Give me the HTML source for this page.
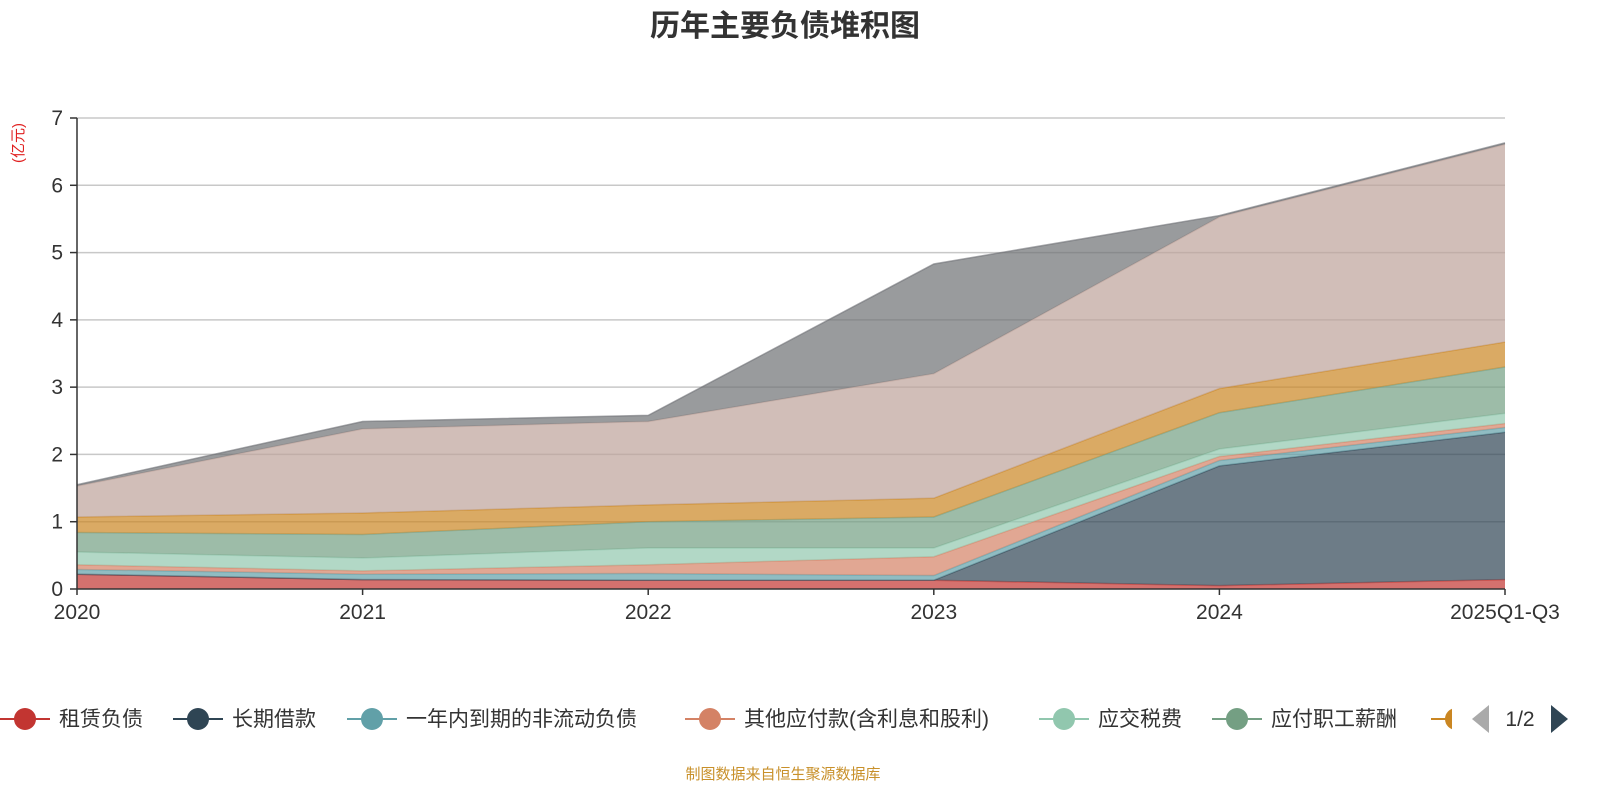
<!DOCTYPE html>
<html><head><meta charset="utf-8">
<style>
html,body{margin:0;padding:0;background:#fff;}
body{width:1600px;height:800px;overflow:hidden;font-family:"Liberation Sans","Noto Sans CJK SC",sans-serif;}
</style></head>
<body>
<svg id="chart" width="1600" height="800" xmlns="http://www.w3.org/2000/svg" font-family="'Liberation Sans','Noto Sans CJK SC',sans-serif">
<text x="785" y="36" text-anchor="middle" font-size="30" font-weight="bold" fill="#333">历年主要负债堆积图</text>
<text transform="translate(23,143) rotate(-90)" text-anchor="middle" font-size="15" fill="#e02020">(亿元)</text>
<g id="grid"></g>
<g id="areas"></g>
<g id="axes"></g>
<g id="legend"></g>
<text x="783" y="779" text-anchor="middle" font-size="15" fill="#c8902a">制图数据来自恒生聚源数据库</text>
</svg>
<script>
const categories = ["2020","2021","2022","2023","2024","2025Q1-Q3"];
const yTicks = [0,1,2,3,4,5,6,7];
const seriesNames = ["租赁负债","长期借款","一年内到期的非流动负债","其他应付款(含利息和股利)","应交税费","应付职工薪酬","应付账款","合同负债","其他"];
const s0 = [0.22,0.14,0.13,0.13,0.05,0.14];
const s1 = [0,0,0,0,1.78,2.19];
const s2 = [0.07,0.08,0.10,0.07,0.08,0.07];
const s3 = [0.07,0.05,0.13,0.28,0.06,0.06];
const s4 = [0.19,0.19,0.25,0.13,0.11,0.15];
const s5 = [0.29,0.35,0.39,0.46,0.54,0.69];
const s6 = [0.23,0.32,0.25,0.28,0.36,0.37];
const s7 = [0.46,1.25,1.24,1.85,2.55,2.94];
const s8 = [0.02,0.11,0.09,1.63,0.02,0.02];
const seriesValues = [s0,s1,s2,s3,s4,s5,s6,s7,s8];
const colors = ["#c23531","#2f4554","#61a0a8","#d48265","#91c7ae","#749f83","#ca8622","#bda29a","#6e7074"];

const NS="http://www.w3.org/2000/svg";
const X0=77,X1=1505,Y0=589,Y1=118,YMAX=7;
const xPos=i=>X0+(X1-X0)*i/(categories.length-1);
const yPos=v=>Y0-(Y0-Y1)*v/YMAX;
function mk(tag,attrs,parent){const e=document.createElementNS(NS,tag);for(const k in attrs)e.setAttribute(k,attrs[k]);parent.appendChild(e);return e;}
const grid=document.getElementById('grid'),areas=document.getElementById('areas'),axes=document.getElementById('axes'),legend=document.getElementById('legend');

yTicks.forEach(t=>{
  if(t>0){const l=mk('line',{x1:X0,x2:X1,y1:yPos(t),y2:yPos(t),stroke:'#c8c8c8','stroke-width':1.5},grid);
  
  }
  const tk=mk('line',{x1:X0-7,x2:X0,y1:yPos(t),y2:yPos(t),stroke:'#333','stroke-width':1.5},axes);
  
  
  const tx=mk('text',{x:X0-14,y:yPos(t)+7,'text-anchor':'end','font-size':21,fill:'#333'},axes);
  tx.textContent=t;
  
  
});

let cum=categories.map(()=>0);
seriesValues.forEach((vals,si)=>{
  const lower=cum.slice();
  const upper=cum.map((c,i)=>c+vals[i]);
  let d='M'+upper.map((v,i)=>xPos(i)+','+yPos(v)).join(' L');
  for(let i=lower.length-1;i>=0;i--)d+=' L'+xPos(i)+','+yPos(lower[i]);
  d+=' Z';
  const p=mk('path',{d:d,fill:colors[si],'fill-opacity':0.7,stroke:'none'},areas);
  
  
  const ln=mk('polyline',{points:upper.map((v,i)=>xPos(i)+','+yPos(v)).join(' '),fill:'none',stroke:colors[si],'stroke-opacity':0.6,'stroke-width':1.5},areas);
  
  
  cum=upper;
});

const ax=mk('line',{x1:X0,x2:X0,y1:Y1,y2:Y0,stroke:'#333','stroke-width':1.5},axes);


const xa=mk('line',{x1:X0,x2:X1,y1:Y0,y2:Y0,stroke:'#333','stroke-width':1.5},axes);


categories.forEach((c,i)=>{
  const tk=mk('line',{x1:xPos(i),x2:xPos(i),y1:Y0,y2:Y0+6,stroke:'#333','stroke-width':1.5},axes);
  
  
  const t=mk('text',{x:xPos(i),y:Y0+30,'text-anchor':'middle','font-size':21,fill:'#333'},axes);
  t.textContent=c;
  
  
});

const legendX=[25,198,372,710,1064,1237,1456];
const clip=mk('clipPath',{id:'lc'},legend);
mk('rect',{x:0,y:690,width:1452,height:60},clip);
const lg=mk('g',{'clip-path':'url(#lc)'},legend);
for(let i=0;i<7;i++){
  const g=mk('g',{},lg);
  
  
  const cx=legendX[i];
  mk('line',{x1:cx-25,x2:cx+25,y1:719,y2:719,stroke:colors[i],'stroke-width':2},g);
  mk('circle',{cx:cx,cy:719,r:11,fill:colors[i]},g);
  const t=mk('text',{x:cx+34,y:726,'font-size':21,fill:'#333'},g);
  t.textContent=seriesNames[i];
}
const pl=mk('path',{d:'M1472,719 L1489,705 L1489,733 Z',fill:'#aaa'},legend);


const pt=mk('text',{x:1520,y:726,'text-anchor':'middle','font-size':21,fill:'#333'},legend);
pt.textContent='1/2';


const pn=mk('path',{d:'M1551,705 L1568,719 L1551,733 Z',fill:'#2f4554'},legend);


</script>
</body></html>
